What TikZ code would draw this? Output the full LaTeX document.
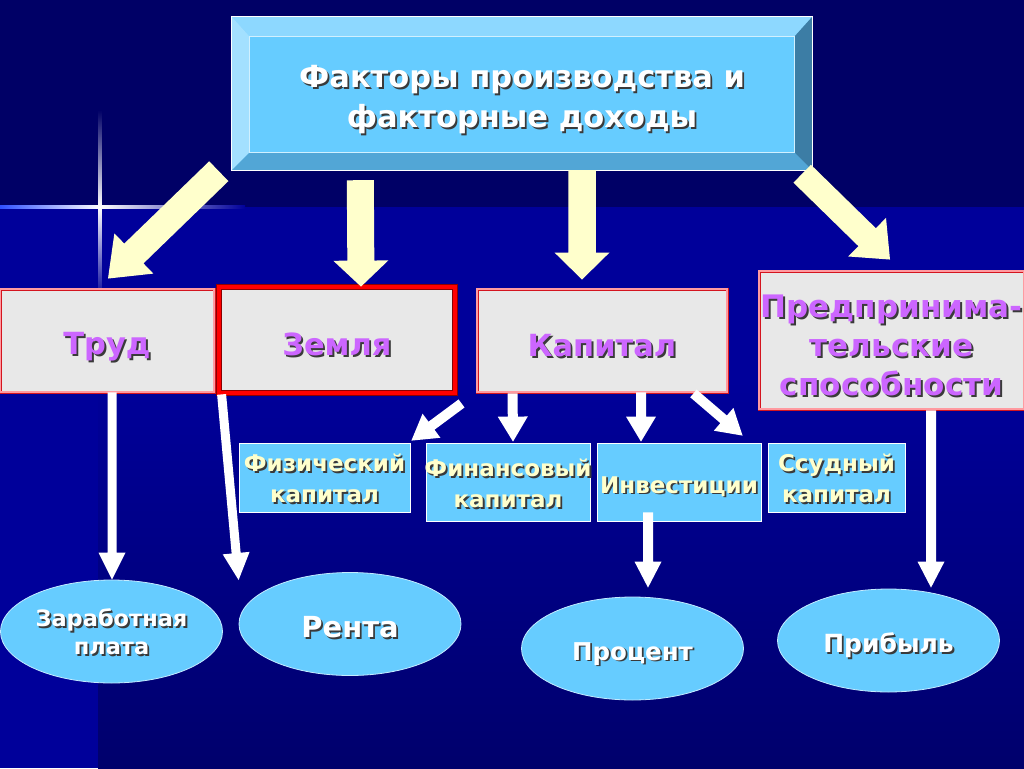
\documentclass[tikz,border=0pt]{standalone}
\usepackage{fontspec}
\setmainfont{DejaVu Sans}
\usetikzlibrary{calc,shapes.geometric}
\definecolor{bgtop}{HTML}{000066}
\definecolor{bgmid}{HTML}{00009A}
\definecolor{bgbot}{HTML}{00006C}
\definecolor{face}{HTML}{66CCFF}
\definecolor{bevT}{HTML}{8DD8FF}
\definecolor{bevL}{HTML}{A3E0FF}
\definecolor{bevB}{HTML}{52A6D6}
\definecolor{bevR}{HTML}{3C7DA5}
\definecolor{cream}{HTML}{FFFFCC}
\definecolor{purp}{HTML}{CC66FF}
\definecolor{grayface}{HTML}{E8E8E8}
\definecolor{bordR}{HTML}{D4141E}
\definecolor{bordP}{HTML}{FF9AA0}
\definecolor{bordD}{HTML}{8B0000}
\definecolor{ellb}{HTML}{C4EBFF}
\definecolor{glow}{HTML}{3050FF}
\definecolor{shadowc}{HTML}{3A3A3A}
\newcommand\shd[1]{\leavevmode\rlap{\kern1.8pt\raisebox{-1.8pt}{\textcolor{shadowc}{#1}}}#1}
\newcommand\shz[1]{\makebox[0pt]{\shd{#1}}}
\newcommand\vst[1]{\rule{0pt}{#1}}
\newcommand\blockarrow[6]{%
  \coordinate (ba-s) at #2;
  \coordinate (ba-t) at #3;
  \coordinate (ba-h) at ($(ba-t)!#6!(ba-s)$);
  \fill[#1] ($(ba-s)!#4!90:(ba-t)$) -- ($(ba-h)!#4!90:(ba-t)$) -- ($(ba-h)!#5!90:(ba-t)$) -- (ba-t)
    -- ($(ba-h)!#5!-90:(ba-t)$) -- ($(ba-h)!#4!-90:(ba-t)$) -- ($(ba-s)!#4!-90:(ba-t)$) -- cycle;
}
\begin{document}
\begin{tikzpicture}[x=1pt,y=-1pt,
  gbox/.style={rectangle, fill=grayface, draw=bordR, double=bordP, double distance=1.2pt,
    line width=0.9pt, inner sep=0pt, text=purp, align=center,
    font=\bfseries\fontsize{30.5}{38}\selectfont},
  sbox/.style={rectangle, fill=face, draw=white, line width=0.8pt, inner sep=0pt,
    text=cream, align=center, font=\bfseries\fontsize{23}{31}\selectfont},
  ell/.style={ellipse, fill=face, draw=ellb, line width=0.8pt, inner sep=0pt,
    minimum width=222pt, minimum height=103pt, text=white, align=center}]
\useasboundingbox (0,0) rectangle (1024,768);
% background
\fill[bgtop] (0,0) rectangle (1024,207);
\fill[bgmid] (0,207) rectangle (1024,768);
\shade[top color=bgmid, bottom color=bgbot] (98,380) rectangle (1024,768);
% lens flare
\shade[left color=glow, right color=white] (0,205.6) rectangle (100,208.4);
\shade[left color=white, right color=bgmid] (100,205.6) rectangle (245,208.4);
\shade[top color=bgtop, bottom color=white] (98.7,110) rectangle (101.3,207);
\shade[top color=white, bottom color=bgmid] (98.7,207) rectangle (101.3,300);
% title box
\node[rectangle, fill=face, minimum width=580pt, minimum height=153pt, inner sep=0pt,
  text=white, align=center, font=\bfseries\fontsize{30.5}{40}\selectfont]
  (top) at (522,93.5) {\vst{36pt}\shd{Факторы производства и}\\\shd{факторные доходы}};
\fill[bevT] (top.north west) -- (top.north east) -- ($(top.north east)+(-18,20)$) -- ($(top.north west)+(18,20)$) -- cycle;
\fill[bevL] (top.north west) -- ($(top.north west)+(18,20)$) -- ($(top.south west)+(18,-18)$) -- (top.south west) -- cycle;
\fill[bevB] (top.south west) -- ($(top.south west)+(18,-18)$) -- ($(top.south east)+(-18,-18)$) -- (top.south east) -- cycle;
\fill[bevR] (top.north east) -- (top.south east) -- ($(top.south east)+(-18,-18)$) -- ($(top.north east)+(-18,20)$) -- cycle;
\draw[white, line width=0.8pt] (top.north west) rectangle (top.south east);
\draw[white!70!face, line width=0.8pt] ($(top.north west)+(18,20)$) rectangle ($(top.south east)+(-18,-18)$);
% factor boxes
\node[gbox, minimum width=214pt, minimum height=103pt] (trud) at (107,340.5) {\vst{36pt}\shz{Труд}};
\node[gbox, draw=bordD, double=red, double distance=3.6pt, line width=0.8pt,
  minimum width=236pt, minimum height=106pt] (zemlya) at (337,340) {\vst{33pt}\shz{Земля}};
\node[gbox, minimum width=250pt, minimum height=103pt] (kap) at (602,340.5) {\vst{34pt}\shz{Капитал}};
\node[gbox, font=\bfseries\fontsize{31}{39}\selectfont, minimum width=265pt, minimum height=138pt]
  (pred) at (891.5,340) {\vst{36pt}\shz{Предпринима-}\\\shz{тельские}\\\shz{способности}};
% yellow arrows
\blockarrow{cream}{($(top.south west)+(-13,1)$)}{($(trud.north)+(1,-10)$)}{13.8pt}{28pt}{36pt}
\blockarrow{cream}{($(top.south west)+(128.5,10)$)}{($(zemlya.north)+(24,0)$)}{13.5pt}{27.5pt}{26pt}
\blockarrow{cream}{($(top.south)+(60,0)$)}{($(kap.north)+(-20,-9)$)}{13.75pt}{27.5pt}{27pt}
\blockarrow{cream}{($(top.south east)+(-10,3.5)$)}{($(pred.north)+(-1.5,-11)$)}{12.5pt}{27pt}{32pt}
% capital kinds
\node[sbox, minimum width=171pt, minimum height=69pt] (fiz) at (324.5,477.5) {\vst{21.5pt}\shz{Физический}\\\shz{капитал}};
\node[sbox, minimum width=164pt, minimum height=78pt] (fin) at (508,482) {\vst{22.5pt}\shz{Финансовый}\\\shz{капитал}};
\node[sbox, minimum width=164pt, minimum height=78pt] (inv) at (679,482) {\vst{27pt}\shz{Инвестиции}};
\node[sbox, minimum width=137pt, minimum height=69pt] (ssud) at (836.5,477.5) {\vst{21.5pt}\shz{Ссудный}\\\shz{капитал}};
% incomes
\node[ell, font=\bfseries\fontsize{22.5}{28}\selectfont] (zar) at (111.5,631.5) {\vst{20pt}\shz{Заработная}\\\shz{плата}};
\node[ell, font=\bfseries\fontsize{29}{34}\selectfont] (renta) at (350,624) {\vst{30pt}\shz{Рента}};
\node[ell, font=\bfseries\fontsize{24.5}{30}\selectfont] (proc) at (632.5,648.5) {\vst{30pt}\shz{Процент}};
\node[ell, font=\bfseries\fontsize{25}{30}\selectfont] (prib) at (888.5,640.5) {\vst{31pt}\shz{Прибыль}};
% white arrows
\blockarrow{white}{($(trud.south)+(5,0)$)}{($(zar.north)+(0.5,0)$)}{4.5pt}{13.5pt}{27pt}
\blockarrow{white}{($(zemlya.south west)+(3,1)$)}{($(renta.west)+(0,-44)$)}{4.5pt}{13.5pt}{27pt}
\blockarrow{white}{($(kap.south west)+(-15,11)$)}{($(fiz.north east)+(1,-2)$)}{5pt}{15pt}{25pt}
\blockarrow{white}{($(kap.south west)+(36,1)$)}{($(fin.north)+(5,-1)$)}{5pt}{15pt}{25pt}
\blockarrow{white}{($(kap.south)+(39,0)$)}{($(inv.north)+(-38,-1)$)}{5pt}{15pt}{25pt}
\blockarrow{white}{($(kap.south east)+(-34,1)$)}{($(ssud.north west)+(-25,-7)$)}{5pt}{15pt}{25pt}
\blockarrow{white}{($(inv.south)+(-31,-9)$)}{($(proc.north)+(15.5,-9)$)}{5pt}{13.5pt}{26pt}
\blockarrow{white}{($(pred.south)+(39.5,1)$)}{($(prib.north)+(42.5,-1)$)}{5pt}{13.5pt}{26pt}
\end{tikzpicture}
\end{document}
